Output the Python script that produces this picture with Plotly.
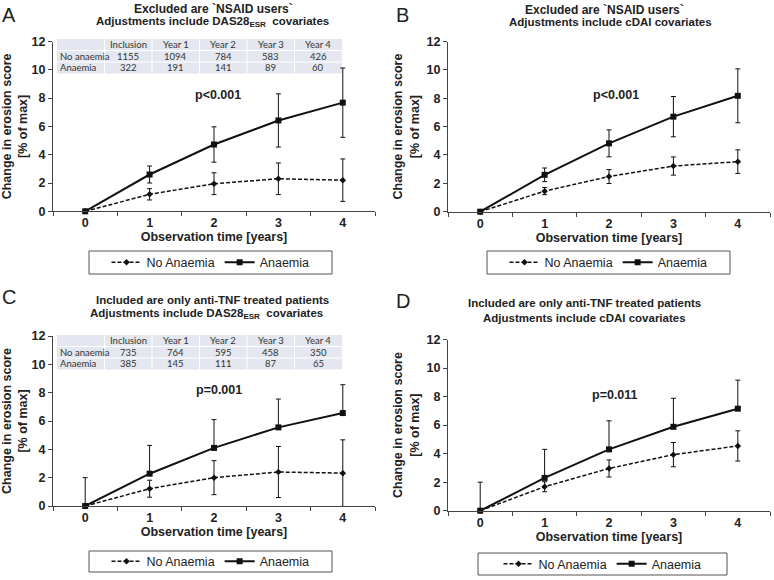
import plotly.graph_objects as go

W, H = 774, 580
def px(x): return x / W
def py(y): return 1 - y / H

years = ["0", "1", "2", "3", "4"]

# Panel A
a_no = [0, 1.2, 1.95, 2.3, 2.2]
a_no_err = [0, 0.4, 0.77, 1.12, 1.5]
a_an = [0, 2.6, 4.72, 6.42, 7.68]
a_an_err = [0, 0.6, 1.25, 1.88, 2.45]
# Panel B
b_no = [0, 1.45, 2.48, 3.22, 3.53]
b_no_err = [0, 0.25, 0.49, 0.64, 0.83]
b_an = [0, 2.6, 4.82, 6.7, 8.17]
b_an_err = [0, 0.48, 0.95, 1.42, 1.9]
# Panel C
c_no = [0, 1.22, 2.0, 2.4, 2.32]
c_no_err = [0, 0.6, 1.2, 1.8, 2.35]
c_an = [0, 2.28, 4.1, 5.55, 6.56]
c_an_err_plus = [2.0, 2.0, 2.0, 2.0, 2.0]
# Panel D
d_no = [0, 1.68, 2.96, 3.93, 4.54]
d_no_err = [0, 0.35, 0.6, 0.85, 1.06]
d_an = [0, 2.3, 4.3, 5.88, 7.15]
d_an_err_plus = [2.0, 2.0, 2.0, 2.0, 2.0]

# Tables
tab_header = ["", "Inclusion", "Year 1", "Year 2", "Year 3", "Year 4"]
tab_rows = ["No anaemia", "Anaemia"]
a_tab_no = [1155, 1094, 784, 583, 426]
a_tab_an = [322, 191, 141, 89, 60]
c_tab_no = [735, 764, 595, 458, 350]
c_tab_an = [385, 145, 111, 87, 65]

FONT = "Liberation Sans, Arial, sans-serif"
TFONT = "Lato, sans-serif"
BLACK = "#111111"
AX = "#444444"

fig = go.Figure()

panels = [
    ("", "", a_no, a_no_err, a_no_err, a_an, a_an_err, a_an_err, "legend"),
    ("2", "2", b_no, b_no_err, b_no_err, b_an, b_an_err, b_an_err, "legend2"),
    ("3", "3", c_no, c_no_err, c_no_err, c_an, c_an_err_plus, [0]*5, "legend3"),
    ("4", "4", d_no, d_no_err, d_no_err, d_an, d_an_err_plus, [0]*5, "legend4"),
]

for xs, ys, no, no_p, no_m, an, an_p, an_m, leg in panels:
    fig.add_trace(go.Scatter(
        x=years, y=no, name="No Anaemia", xaxis="x" + xs, yaxis="y" + ys,
        mode="lines+markers", legend=leg, cliponaxis=False,
        line=dict(color=BLACK, width=1.5, dash="4px,2px"),
        marker=dict(symbol="diamond", size=5, color=BLACK),
        error_y=dict(type="data", symmetric=False, array=no_p, arrayminus=no_m,
                     color=BLACK, thickness=1, width=2.5),
    ))
    fig.add_trace(go.Scatter(
        x=years, y=an, name="Anaemia", xaxis="x" + xs, yaxis="y" + ys,
        mode="lines+markers", legend=leg, cliponaxis=False,
        line=dict(color=BLACK, width=2),
        marker=dict(symbol="square", size=6, color=BLACK),
        error_y=dict(type="data", symmetric=False, array=an_p, arrayminus=an_m,
                     color=BLACK, thickness=1, width=2.5),
    ))

shapes = []
annotations = []

def ann(text, x, y, size=11.5, bold=True, family=FONT, xanchor="center", color="#222222"):
    return dict(text=text, x=px(x), y=py(y), xref="paper", yref="paper",
                showarrow=False, xanchor=xanchor, yanchor="middle",
                font=dict(family=family, size=size, color=color,
                          weight="bold" if bold else "normal"))

# Small count tables (drawn as shapes + text)
def add_table(no_vals, an_vals, top):
    x0, colw, rowh = 57.0, 47.5, 11.5
    ncol, nrow = 6, 3
    x1 = x0 + colw * ncol
    bottom = top + rowh * nrow
    shapes.append(dict(type="rect", xref="paper", yref="paper", x0=px(x0), x1=px(x1),
                       y0=py(bottom), y1=py(top), fillcolor="#e4e7ef",
                       line=dict(width=0), layer="below"))
    for c in range(1, ncol):
        xc = x0 + colw * c
        shapes.append(dict(type="line", xref="paper", yref="paper", x0=px(xc), x1=px(xc),
                           y0=py(bottom), y1=py(top), line=dict(color="white", width=1)))
    for r in range(1, nrow):
        yr = top + rowh * r
        shapes.append(dict(type="line", xref="paper", yref="paper", x0=px(x0), x1=px(x1),
                           y0=py(yr), y1=py(yr), line=dict(color="white", width=1)))
    rows = [tab_header, [tab_rows[0]] + no_vals, [tab_rows[1]] + an_vals]
    for r, row in enumerate(rows):
        yc = top + rowh * (r + 0.5)
        for c, val in enumerate(row):
            if val == "":
                continue
            if c == 0:
                annotations.append(ann(str(val), x0 + 1, yc, 9.5, False, TFONT, "left", "#333333"))
            else:
                annotations.append(ann(str(val), x0 + colw * (c + 0.5), yc, 9.5, False, TFONT,
                                       "center", "#333333"))

add_table(a_tab_no, a_tab_an, 39)
add_table(c_tab_no, c_tab_an, 335)

tickfont = dict(family=FONT, size=12.5, color="#222222", weight="bold")
titlefont = dict(family=FONT, size=12.5, color="#222222", weight="bold")

def xaxis(x0, x1, anchor):
    return dict(domain=[px(x0), px(x1)], anchor=anchor, type="category",
                range=[-0.5, 4.5], tickson="boundaries", ticks="outside",
                ticklen=4, tickcolor=AX, showline=True, linecolor=AX, linewidth=1,
                showgrid=False, zeroline=False, tickfont=tickfont, automargin=False,
                title=dict(text="Observation time [years]", font=titlefont, standoff=2))

def yaxis(y0, y1, anchor):
    return dict(domain=[py(y0), py(y1)], anchor=anchor, range=[0, 12], dtick=2,
                ticks="outside", ticklen=4, tickcolor=AX, showline=True,
                linecolor=AX, linewidth=1, showgrid=False, zeroline=False,
                tickfont=tickfont, automargin=False,
                title=dict(text="Change in erosion score<br>[% of max]",
                           font=titlefont, standoff=4))

legend_common = dict(orientation="h", bgcolor="rgba(0,0,0,0)", borderwidth=0,
                     font=dict(family=FONT, size=12.5, color="#222222"),
                     xanchor="center", yanchor="middle", traceorder="normal")

boxes = [(89, 251, 332, 274), (487, 251, 730, 274), (89, 551, 332, 572), (478, 553, 727, 575)]
legends = {}
for i, (bx0, by0, bx1, by1) in enumerate(boxes):
    key = "legend" if i == 0 else "legend%d" % (i + 1)
    legends[key] = dict(legend_common, x=px((bx0 + bx1) / 2), y=py((by0 + by1) / 2))
    shapes.append(dict(type="rect", xref="paper", yref="paper", x0=px(bx0), x1=px(bx1),
                       y0=py(by1), y1=py(by0), line=dict(color="#555555", width=1)))

annotations += [
    ann("A", 9, 15.5, 20, False), ann("B", 402, 15.5, 20, False),
    ann("C", 9, 297, 20, False), ann("D", 403, 301, 20, False),
    ann("Excluded are `NSAID users`", 213, 9, 12),
    ann("Adjustments include DAS28<sub>ESR</sub>  covariates", 212, 22),
    ann("Excluded are `NSAID users`", 604, 10, 12),
    ann("Adjustments include cDAI covariates", 610, 22),
    ann("Included are only anti-TNF treated patients", 212, 300),
    ann("Adjustments include DAS28<sub>ESR</sub>  covariates", 206, 314),
    ann("Included are only anti-TNF treated patients", 584, 303),
    ann("Adjustments include cDAI covariates", 584, 318),
    ann("p&lt;0.001", 218, 95, 12.5), ann("p&lt;0.001", 616, 95, 12.5),
    ann("p=0.001", 219, 390, 12.5), ann("p=0.011", 615, 395, 12.5),
]

fig.update_layout(
    width=W, height=H, autosize=False,
    margin=dict(l=0, r=0, t=0, b=0),
    paper_bgcolor="white", plot_bgcolor="white",
    font=dict(family=FONT, color="#222222"),
    xaxis=xaxis(53, 375, "y"), yaxis=yaxis(211.3, 41.5, "x"),
    xaxis2=xaxis(448, 770, "y2"), yaxis2=yaxis(211.7, 41.5, "x2"),
    xaxis3=xaxis(53, 375, "y3"), yaxis3=yaxis(506, 336, "x3"),
    xaxis4=xaxis(448, 770, "y4"), yaxis4=yaxis(510.7, 339.5, "x4"),
    shapes=shapes, annotations=annotations,
    **legends,
)

fig.write_html("out.html", config={"displayModeBar": False},
               post_script="document.body.style.margin='0';document.body.style.padding='0';")
